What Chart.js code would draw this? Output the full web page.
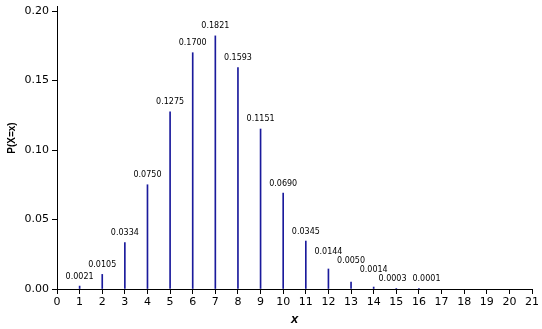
<!DOCTYPE html>
<html>
<head>
<meta charset="utf-8">
<script src="https://cdn.jsdelivr.net/npm/chart.js@4.4.1/dist/chart.umd.min.js"></script>
<style>
  html, body { margin: 0; padding: 0; background: #fff; }
  #chart { display: block; }
</style>
</head>
<body>
<canvas id="chart" width="542" height="329"></canvas>
<script>
// probability mass function, one stem per outcome
const outcomes = [1, 2, 3, 4, 5, 6, 7, 8, 9, 10, 11, 12, 13, 14, 15, 16];
const probabilities = [0.0021, 0.0105, 0.0334, 0.0750, 0.1275, 0.1700, 0.1821, 0.1593,
  0.1151, 0.0690, 0.0345, 0.0144, 0.0050, 0.0014, 0.0003, 0.0001];
const yTickValues = [0, 0.05, 0.10, 0.15, 0.20];

const stemColor = '#1a1a9c';
const tickFont = { family: 'DejaVu Sans', size: 11 };

// value labels above each stem, nudged apart when they collide
const stemLabels = {
  id: 'stemLabels',
  afterDatasetsDraw(chart) {
    const ctx = chart.ctx;
    const meta = chart.getDatasetMeta(0);
    ctx.save();
    ctx.font = '8px "DejaVu Sans"';
    ctx.fillStyle = '#000';
    ctx.textAlign = 'center';
    ctx.textBaseline = 'middle';

    const lineH = 9;
    const placed = [];
    for (let i = meta.data.length - 1; i >= 0; i--) {
      const el = meta.data[i];
      const text = probabilities[i].toFixed(4);
      const box = { text, cx: el.x, cy: el.y - 9.6, w: ctx.measureText(text).width, top: el.y };
      let moved = true, guard = 0;
      while (moved && guard++ < 20) {
        moved = false;
        for (const p of placed) {
          const dx = Math.abs(p.cx - box.cx);
          const dy = Math.abs(p.cy - box.cy);
          if (dx < (p.w + box.w) / 2 && dy < lineH) {
            if (Math.abs(p.top - box.top) < 1) {
              // both labels sit on the baseline: spread them sideways
              const need = (p.w + box.w) / 2 + 6 - dx;
              box.cx -= need / 3;
              p.cx += need * 2 / 3;
            } else {
              box.cy = p.cy - lineH;
            }
            moved = true;
          }
        }
      }
      placed.push(box);
    }
    placed.forEach(b => ctx.fillText(b.text, b.cx, b.cy));
    ctx.restore();
  }
};

const yTitle = {
  id: 'yTitle',
  afterDraw(chart) {
    const ctx = chart.ctx;
    ctx.save();
    ctx.translate(12.5, 138);
    ctx.rotate(-Math.PI / 2);
    ctx.font = 'bold 10px "Liberation Sans"';
    ctx.fillStyle = '#000';
    ctx.textAlign = 'center';
    ctx.textBaseline = 'middle';
    ctx.fillText('P(X=x)', 0, 0);
    ctx.restore();
  }
};

new Chart(document.getElementById('chart'), {
  type: 'bar',
  data: {
    datasets: [{
      data: outcomes.map((x, i) => ({ x, y: probabilities[i] })),
      backgroundColor: stemColor,
      borderWidth: 0,
      barThickness: 1
    }]
  },
  options: {
    responsive: false,
    animation: false,
    layout: { padding: { top: 6, right: 10, left: 0, bottom: 0 } },
    plugins: {
      legend: { display: false },
      tooltip: { enabled: false }
    },
    scales: {
      x: {
        type: 'linear',
        min: 0,
        max: 21,
        offset: false,
        ticks: { stepSize: 1, color: '#000', font: tickFont, padding: 2, maxRotation: 0, autoSkip: false },
        grid: { offset: false, drawOnChartArea: false, drawTicks: true, tickLength: 5, color: '#000' },
        border: { color: '#000' },
        title: {
          display: true,
          text: 'x',
          color: '#000',
          font: { family: 'Liberation Sans', size: 13, weight: 'bold', style: 'italic' },
          padding: { top: 0, bottom: 2 }
        },
        afterFit(scale) { scale.height = 40; }
      },
      y: {
        min: 0,
        max: 0.2036,
        afterBuildTicks(scale) { scale.ticks = yTickValues.map(v => ({ value: v })); },
        ticks: { color: '#000', font: tickFont, padding: 3, callback: v => v.toFixed(2) },
        grid: { offset: false, drawOnChartArea: false, drawTicks: true, tickLength: 5, color: '#000' },
        border: { color: '#000' },
        afterFit(scale) {
          scale.width = 57;
          scale.paddingTop = 0;
          scale.paddingBottom = 0;
        }
      }
    }
  },
  plugins: [stemLabels, yTitle]
});
</script>
</body>
</html>
